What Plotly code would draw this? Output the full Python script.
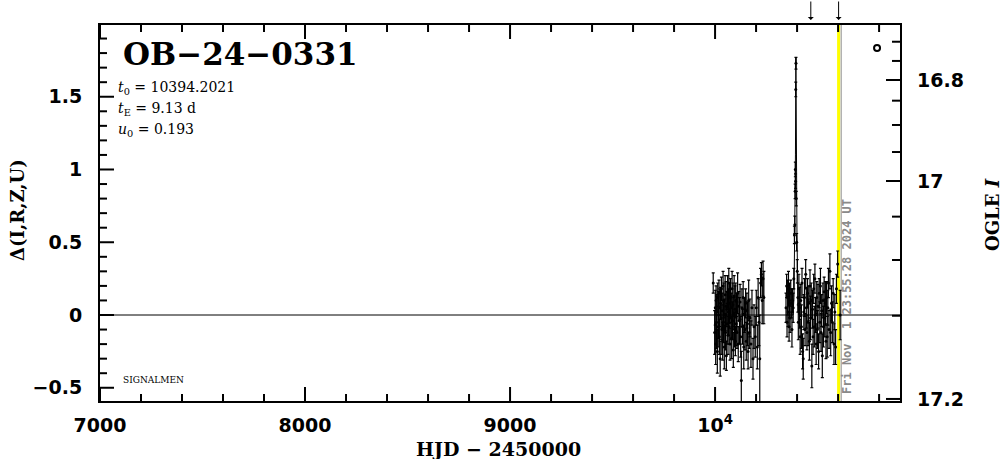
import plotly.graph_objects as go

# ---------------- data ----------------
s1_hjd = [9991, 9998, 10001, 10003, 10005, 10007, 10009, 10011, 10013, 10015,
          10017, 10019, 10021, 10023, 10025, 10027, 10029, 10031, 10033, 10035,
          10037, 10039, 10041, 10043, 10045, 10047, 10049, 10051, 10053, 10055,
          10057, 10059, 10061, 10063, 10065, 10067, 10069, 10071, 10073, 10075,
          10077, 10079, 10081, 10083, 10085, 10087, 10089, 10091, 10093, 10095,
          10097, 10099, 10101, 10103, 10105, 10107, 10110, 10113, 10116, 10119,
          10122, 10125, 10128, 10131, 10134, 10137, 10140, 10143, 10146, 10149,
          10152, 10155, 10158, 10161, 10164, 10167, 10170, 10175, 10180, 10185,
          10190, 10196, 10201, 10206, 10210, 10214, 10218, 10222, 10226, 10230,
          10234, 10238]
s1_delta = [0.22, -0.12, 0.05, -0.20, 0.10, -0.05, 0.02, -0.25, 0.12, -0.08,
            0.00, 0.15, -0.15, 0.05, -0.30, 0.08, -0.02, 0.18, -0.10, 0.03,
            -0.18, 0.20, -0.05, 0.10, -0.22, 0.00, 0.14, -0.12, 0.06, -0.28,
            0.04, -0.06, 0.16, -0.14, 0.02, 0.22, -0.08, 0.08, -0.20, 0.12,
            -0.02, 0.05, -0.16, 0.18, -0.04, 0.07, -0.24, 0.01, 0.13, -0.10,
            0.04, -0.18, 0.10, -0.06, 0.02, -0.12, 0.15, -0.20, 0.06, -0.04,
            0.09, -0.15, -0.45, 0.05, -0.08, 0.12, -0.22, 0.00, -0.10, 0.08,
            -0.18, 0.03, -0.06, -0.25, 0.10, -0.12, -0.02, -0.20, 0.05, -0.30,
            -0.08, -0.15, 0.05, -0.22, 0.12, -0.05, -0.30, 0.22, 0.28, 0.10,
            0.25, 0.12]
s1_err = [0.07, 0.15, 0.12, 0.14, 0.10, 0.18, 0.12, 0.15, 0.10, 0.14,
          0.16, 0.09, 0.12, 0.13, 0.12, 0.11, 0.15, 0.08, 0.17, 0.12,
          0.13, 0.10, 0.14, 0.12, 0.15, 0.11, 0.13, 0.12, 0.17, 0.10,
          0.12, 0.14, 0.11, 0.13, 0.16, 0.10, 0.12, 0.14, 0.11, 0.13,
          0.15, 0.10, 0.14, 0.12, 0.13, 0.15, 0.12, 0.11, 0.14, 0.12,
          0.16, 0.10, 0.12, 0.15, 0.13, 0.11, 0.14, 0.12, 0.10, 0.16,
          0.12, 0.14, 0.20, 0.13, 0.12, 0.11, 0.15, 0.12, 0.14, 0.10,
          0.13, 0.12, 0.15, 0.12, 0.14, 0.11, 0.13, 0.16, 0.12, 0.14,
          0.15, 0.14, 0.12, 0.15, 0.13, 0.16, 0.30, 0.10, 0.08, 0.16,
          0.12, 0.18]

s2_hjd = [10346, 10349, 10351, 10354, 10356, 10358, 10361, 10363, 10366, 10369,
          10372, 10375, 10378, 10381, 10384, 10387, 10389,
          10390.5, 10391.5, 10392.5, 10393.5, 10394.5, 10396, 10398, 10401, 10404,
          10406, 10409, 10412, 10415, 10418, 10421, 10424, 10427, 10430, 10433,
          10436, 10439, 10442, 10445, 10448, 10451, 10454, 10457, 10460, 10463,
          10466, 10469, 10472, 10475, 10478, 10481, 10484, 10487, 10490, 10493,
          10496, 10499, 10502, 10505, 10508, 10511, 10514, 10517, 10520, 10523,
          10526, 10529, 10532, 10535, 10538, 10541, 10544, 10547, 10550, 10553,
          10556, 10560, 10564, 10568, 10572, 10576, 10580, 10584, 10588, 10592,
          10598, 10610]
s2_delta = [0.05, 0.20, -0.05, 0.12, 0.02, 0.18, -0.08, 0.10, -0.02, 0.15,
            0.08, -0.10, 0.10, 0.05, 0.25, 0.55, 0.62,
            0.85, 1.00, 0.92, 1.55, 1.73, 0.80, 0.50, 0.30, 0.12,
            -0.05, 0.18, 0.05, -0.15, 0.10, -0.08, 0.22, -0.25, -0.30, 0.02,
            0.12, -0.10, 0.28, 0.05, -0.12, 0.15, -0.05, 0.08, -0.18, 0.20,
            -0.02, 0.10, -0.35, 0.04, -0.15, 0.18, -0.08, 0.25, 0.00, -0.20,
            0.12, -0.10, 0.06, -0.25, 0.15, -0.05, 0.20, -0.12, 0.03, -0.28,
            0.10, -0.08, 0.16, -0.02, 0.08, -0.18, 0.12, -0.15, 0.05, 0.22,
            -0.10, 0.30, -0.12, 0.08, -0.05, 0.15, -0.20, 0.02, -0.22, 0.18,
            0.35, 0.00]
s2_err = [0.10, 0.08, 0.10, 0.12, 0.10, 0.12, 0.10, 0.12, 0.10, 0.09,
          0.10, 0.12, 0.08, 0.10, 0.07, 0.06, 0.06,
          0.05, 0.05, 0.05, 0.05, 0.04, 0.05, 0.06, 0.08, 0.10,
          0.12, 0.10, 0.14, 0.12, 0.11, 0.15, 0.10, 0.12, 0.14, 0.12,
          0.13, 0.11, 0.10, 0.14, 0.12, 0.10, 0.16, 0.12, 0.13, 0.11,
          0.15, 0.12, 0.15, 0.13, 0.12, 0.10, 0.14, 0.10, 0.12, 0.14,
          0.11, 0.13, 0.15, 0.12, 0.10, 0.14, 0.12, 0.13, 0.11, 0.15,
          0.12, 0.14, 0.10, 0.13, 0.15, 0.12, 0.11, 0.14, 0.12, 0.10,
          0.13, 0.12, 0.16, 0.12, 0.14, 0.10, 0.14, 0.12, 0.12, 0.10,
          0.09, 0.17]

model_hjd = [7000, 10380, 10385, 10389, 10392, 10394.2, 10396.5, 10399.5, 10404, 10409, 10902]
model_delta = [0.0, 0.0, 0.12, 0.55, 1.10, 1.77, 1.10, 0.55, 0.12, 0.0, 0.0]

ogle_marker_hjd = [10790]
ogle_marker_delta = [1.835]

x_tick_vals = [7000, 8000, 9000, 10000]
x_tick_text = ["7000", "8000", "9000", "10<sup>4</sup>"]
x_minor_vals = [v for v in range(7200, 10901, 200) if v % 1000 != 0]
y_tick_vals = [-0.5, 0, 0.5, 1, 1.5]
y_tick_text = ["\u22120.5", "0", "0.5", "1", "1.5"]
y_minor_vals = [round(-0.5 + 0.1 * k, 1) for k in range(25) if k % 5 != 0]

ogle_major_labels = ["16.8", "17", "17.2"]
ogle_major_at_delta = [1.615, 0.921, -0.577]
ogle_minor_at_delta = [1.878, 1.746, 1.473, 1.306, 1.120, 0.676, 0.378, -0.005]

arrow_hjd = [10467, 10602.5]
yellow_hjd = 10602.5
now_hjd = 10615
now_text = "Fri Nov&nbsp;&nbsp;1 23:55:28 2024 UT"
event_name = "OB\u221224\u22120331"
param_lines = ["<i>t</i><sub>0</sub> = 10394.2021",
               "<i>t</i><sub>E</sub> = 9.13 d",
               "<i>u</i><sub>0</sub> = 0.193"]
x_title = "HJD \u2212 2450000"
y_title = "\u0394(I,R,Z,U)"
y2_title = "OGLE <i>I</i>"

# ---------------- layout geometry ----------------
W, H = 1004, 459
L, R, T, B = 100, 104, 25, 58
PW, PH = W - L - R, H - T - B
XR = [7000, 10902]
YR = [-0.591, 1.993]
MAJ, MIN_, MIN_R = 14, 7, 8


def px(xp):
    return (xp - L) / PW


def py(yp):
    return (H - B - yp) / PH


BLACK = "black"
fig = go.Figure()

# model curve / zero line
fig.add_trace(go.Scatter(x=model_hjd, y=model_delta, mode="lines",
                         line=dict(color=BLACK, width=1), hoverinfo="skip"))

for hx, hy, he in [(s1_hjd, s1_delta, s1_err), (s2_hjd, s2_delta, s2_err)]:
    fig.add_trace(go.Scatter(
        x=hx, y=hy, mode="markers",
        marker=dict(color=BLACK, size=3),
        error_y=dict(type="data", array=he, visible=True, color=BLACK,
                     thickness=1.2, width=1.5)))

fig.add_trace(go.Scatter(x=ogle_marker_hjd, y=ogle_marker_delta, mode="markers",
                         marker=dict(symbol="circle-open", size=6,
                                     color=BLACK, line=dict(width=2, color=BLACK))))

# invisible trace to activate the right-hand magnitude axis
fig.add_trace(go.Scatter(x=[XR[0]], y=[0], yaxis="y2", mode="markers",
                         marker=dict(opacity=0), hoverinfo="skip"))

TICKFONT = dict(family="DejaVu Sans", size=19, color=BLACK, weight="bold")

fig.update_layout(
    template="none",
    width=W, height=H, autosize=False,
    margin=dict(l=L, r=R, t=T, b=B, pad=0),
    paper_bgcolor="white", plot_bgcolor="white",
    showlegend=False,
    xaxis=dict(range=XR, showgrid=False, zeroline=False, automargin=False,
               showline=True, linecolor=BLACK, linewidth=2, mirror=True,
               ticks="", tickvals=x_tick_vals, ticktext=x_tick_text, tickfont=TICKFONT,
               ticklabelstandoff=6),
    yaxis=dict(range=YR, showgrid=False, zeroline=False, automargin=False,
               showline=True, linecolor=BLACK, linewidth=2, mirror=True,
               ticks="", tickvals=y_tick_vals, ticktext=y_tick_text, tickfont=TICKFONT,
               ticklabelstandoff=12),
    yaxis2=dict(range=YR, overlaying="y", side="right", anchor="x", automargin=False,
                showgrid=False, zeroline=False, showline=False,
                ticks="", tickvals=ogle_major_at_delta, ticktext=ogle_major_labels,
                tickfont=TICKFONT, ticklabelstandoff=16),
)

# yellow marker line and "now" gray line
fig.add_shape(type="line", xref="x", yref="paper", x0=yellow_hjd, x1=yellow_hjd,
              y0=0, y1=1, line=dict(color="#ffff00", width=3), layer="below")
fig.add_shape(type="line", xref="x", yref="paper", x0=now_hjd, x1=now_hjd,
              y0=0, y1=1, line=dict(color="#8a8a8a", width=1), layer="below")

# tick marks (inward, on all four sides)
TICK_LINE = dict(color=BLACK, width=2)
for vals, ln in [(x_tick_vals, MAJ), (x_minor_vals, MIN_)]:
    for v in vals:
        fig.add_shape(type="line", xref="x", yref="paper", x0=v, x1=v,
                      y0=0, y1=ln / PH, line=TICK_LINE, layer="above")
        fig.add_shape(type="line", xref="x", yref="paper", x0=v, x1=v,
                      y0=1, y1=1 - ln / PH, line=TICK_LINE, layer="above")
for vals, ln in [(y_tick_vals, MAJ), (y_minor_vals, MIN_)]:
    for v in vals:
        fig.add_shape(type="line", xref="paper", yref="y", x0=0, x1=ln / PW,
                      y0=v, y1=v, line=TICK_LINE, layer="above")
for vals, ln in [(ogle_major_at_delta, MAJ), (ogle_minor_at_delta, MIN_R)]:
    for v in vals:
        fig.add_shape(type="line", xref="paper", yref="y", x0=1, x1=1 - ln / PW,
                      y0=v, y1=v, line=TICK_LINE, layer="above")

# arrows above the frame
for a in arrow_hjd:
    fig.add_annotation(x=a, xref="x", y=py(20), yref="paper", text="",
                       showarrow=True, arrowhead=1, arrowsize=1, arrowwidth=1,
                       arrowcolor=BLACK, ax=0, ay=-20)

# texts
fig.add_annotation(x=px(121), y=py(54), xref="paper", yref="paper", text=event_name,
                   showarrow=False, xanchor="left", yanchor="middle",
                   font=dict(family="DejaVu Serif", size=31, color=BLACK, weight="bold"))
for i, line in enumerate(param_lines):
    fig.add_annotation(x=px(116), y=py(88 + 21 * i), xref="paper", yref="paper",
                       text=line, showarrow=False, xanchor="left", yanchor="middle",
                       font=dict(family="DejaVu Serif", size=14, color=BLACK))
fig.add_annotation(x=px(121), y=py(380), xref="paper", yref="paper", text="SIGNALMEN",
                   showarrow=False, xanchor="left", yanchor="middle",
                   font=dict(family="DejaVu Serif", size=9, color=BLACK))
fig.add_annotation(x=px(847), y=py(297), xref="paper", yref="paper", text=now_text,
                   showarrow=False, textangle=-90, xanchor="center", yanchor="middle",
                   font=dict(family="DejaVu Sans Mono", size=12, color="#8a8a8a", weight="bold"))
fig.add_annotation(x=px(498), y=py(449), xref="paper", yref="paper", text=x_title,
                   showarrow=False, xanchor="center", yanchor="middle",
                   font=dict(family="DejaVu Serif", size=19, color=BLACK, weight="bold"))
fig.add_annotation(x=px(17), y=py(210), xref="paper", yref="paper", text=y_title,
                   showarrow=False, textangle=-90, xanchor="center", yanchor="middle",
                   font=dict(family="DejaVu Serif", size=18, color=BLACK, weight="bold"))
fig.add_annotation(x=px(993), y=py(215), xref="paper", yref="paper", text=y2_title,
                   showarrow=False, textangle=-90, xanchor="center", yanchor="middle",
                   font=dict(family="DejaVu Serif", size=18, color=BLACK, weight="bold"))

fig.write_html("out.html", config={"displayModeBar": False},
               post_script="document.body.style.margin='0';")
